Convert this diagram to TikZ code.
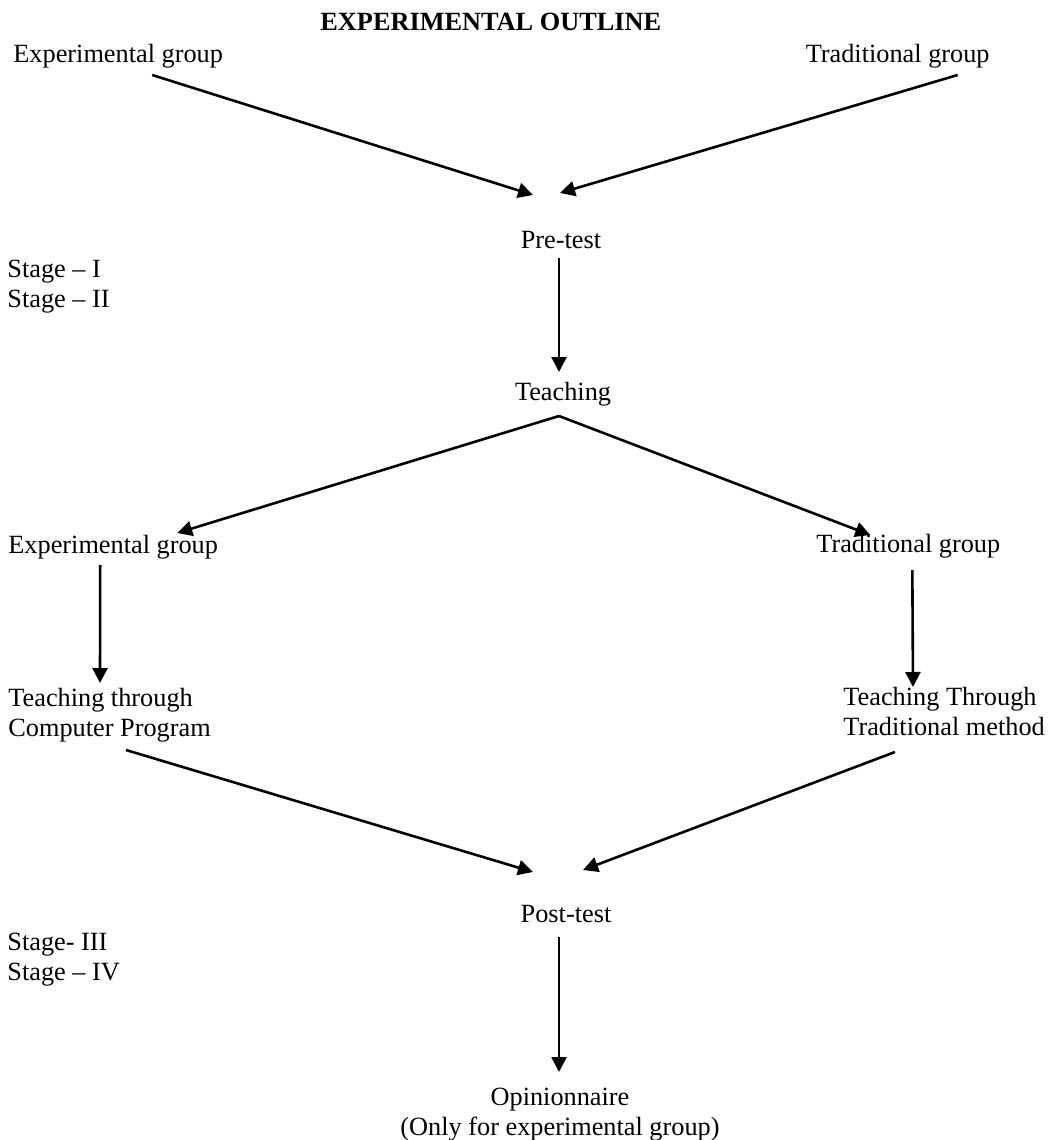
\documentclass[tikz,border=0pt]{standalone}
\usepackage{fontspec}
\setmainfont{Liberation Serif}
\usetikzlibrary{arrows.meta,calc}
\tikzset{
  lbl/.style={inner sep=0pt, font=\fontsize{13.15}{15}\selectfont},
  ttl/.style={inner sep=0pt, font=\fontsize{13.15}{15}\selectfont\bfseries},
  arr/.style={-{Triangle[length=7.5pt,width=7.5pt]}, line width=1.3pt},
  ln/.style={line width=1.3pt}
}

\begin{document}
\begin{tikzpicture}[x=0.5pt,y=-0.5pt]
  \useasboundingbox (0,0) rectangle (1048,1140);

  % heading and the two groups
  \node[ttl, anchor=base west] (title) at (320,31) {EXPERIMENTAL OUTLINE};
  \node[lbl, anchor=base west] (egtop) at (13,62) {Experimental group};
  \node[lbl, anchor=base east] (tgtop) at (990,62) {Traditional group};

  % stage I and II
  \node[lbl, anchor=base] (pretest) at (561,248) {Pre-test};
  \node[lbl, anchor=base west] (stagei) at (7,277) {Stage -- I};
  \node[lbl, anchor=base west] (stageii) at (7,307) {Stage -- II};
  \node[lbl, anchor=base] (teach) at (563,400) {Teaching};

  % the two branches
  \node[lbl, anchor=base west] (egmid) at (8,553) {Experimental group};
  \node[lbl, anchor=base west] (tgmid) at (816,552) {Traditional group};
  \node[lbl, anchor=base west, align=left] (teachcp) at (8,736)
    {Teaching through\\Computer Program};
  \node[lbl, anchor=base west, align=left] (teachtm) at (843,735)
    {Teaching Through\\Traditional method};

  % stage III and IV
  \node[lbl, anchor=base] (posttest) at (566,922) {Post-test};
  \node[lbl, anchor=base west] (stageiii) at (7,950) {Stage- III};
  \node[lbl, anchor=base west] (stageiv) at (7,980) {Stage -- IV};
  \node[lbl, anchor=base, align=center] (opinion) at (560,1135)
    {Opinionnaire\\(Only for experimental group)};

  % connectors
  \draw[arr] ($(egtop.base)+(34,13)$) -- ($(pretest.base)+(-28,-53)$);
  \draw[arr] ($(tgtop.base)+(60,13)$) -- ($(pretest.base)+(-1,-55)$);
  \draw[arr] ($(pretest.base)+(-2,10)$) -- ($(teach.base)+(-4,-28)$);
  \draw[arr] ($(teach.base)+(-4,16)$) -- ($(egmid.base)+(64,-20)$);
  \draw[arr] ($(teach.base)+(-4,16)$) -- ($(tgmid.base)+(-38,-17)$);
  \draw[arr] ($(egmid.base)+(-13,12)$) -- ($(teachcp.base west)+(92,-53)$);
  \draw[arr] ($(tgmid.base)+(4,18)$) -- ($(teachtm.base west)+(70,-48)$);
  \draw[arr] ($(teachcp.base west)+(118,14)$) -- ($(posttest.base)+(-33,-50)$);
  \draw[arr] ($(teachtm.base west)+(52,17)$) -- ($(posttest.base)+(17,-52)$);
  \draw[arr] ($(posttest.base)+(-7,15)$) -- ($(opinion.base)+(-1,-63)$);
\end{tikzpicture}
\end{document}
